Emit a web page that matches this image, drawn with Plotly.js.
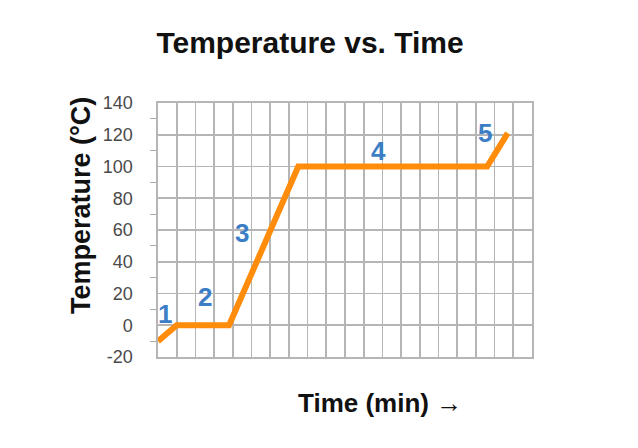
<!DOCTYPE html>
<html>
<head>
<meta charset="utf-8">
<script src="https://cdn.plot.ly/plotly-3.0.1.min.js"></script>
<style>
  body { margin: 0; background: #fff; }
  #graph { width: 638px; height: 448px; }
</style>
</head>
<body>
<div id="graph"></div>
<script>
// heating curve, values
const timeMin = [0, 1, 3.8, 7.5, 17.6, 18.7];
const tempC = [-10, 0, 0, 100, 100, 121];

// phase numbers and where they sit
const phaseText = ['1', '2', '3', '4', '5'];
const phaseX = [0.4, 2.5, 4.5, 11.8, 17.5];
const phaseY = [7, 18, 58, 110, 121];

const yTicks = [-20, 0, 20, 40, 60, 80, 100, 120, 140];
const yTickText = ['-20', '0', '20', '40', '60', '80', '100', '120', '140'];

const trace = {
    x: timeMin,
    y: tempC,
    type: 'scatter',
    mode: 'lines',
    line: { color: '#ff8c0a', width: 6 },
    hoverinfo: 'skip'
};

const phaseNotes = phaseText.map((t, i) => ({
    text: '<b>' + t + '</b>',
    x: phaseX[i],
    y: phaseY[i],
    xref: 'x',
    yref: 'y',
    showarrow: false,
    font: { family: 'Liberation Sans, Arial', size: 26, color: '#3c7ec6' }
}));

const layout = {
    width: 638,
    height: 448,
    margin: { l: 158, r: 106, t: 103, b: 91 },
    paper_bgcolor: '#fff',
    plot_bgcolor: '#fff',
    showlegend: false,
    title: {
        text: '<b>Temperature vs. Time</b>',
        x: 0.486,
        xanchor: 'center',
        y: 0.906,
        yanchor: 'middle',
        font: { family: 'Liberation Sans, Arial', size: 30, color: '#111' }
    },
    xaxis: {
        range: [0, 20],
        dtick: 1,
        showticklabels: false,
        showgrid: true,
        gridcolor: '#b5b5b5',
        gridwidth: 1.6,
        zeroline: false,
        showline: true,
        linecolor: '#b5b5b5',
        linewidth: 1.6,
        mirror: true,
        ticks: ''
    },
    yaxis: {
        range: [-20, 140],
        tickvals: yTicks,
        ticktext: yTickText,
        showgrid: true,
        gridcolor: '#b5b5b5',
        gridwidth: 1.6,
        zeroline: false,
        showline: true,
        linecolor: '#b5b5b5',
        linewidth: 1.6,
        mirror: true,
        ticks: '',
        ticklabelstandoff: 20,
        tickfont: { family: 'Liberation Sans, Arial', size: 18, color: '#4a4a4a' },
        minor: {
            tick0: -10,
            dtick: 20,
            ticks: 'outside',
            ticklen: 6,
            tickcolor: '#aaa',
            showgrid: false
        }
    },
    annotations: phaseNotes.concat([
        {
            text: '<b>Temperature (°C)</b>',
            xref: 'paper', yref: 'paper',
            x: -0.206, y: 0.598,
            xanchor: 'center', yanchor: 'middle',
            textangle: -90,
            showarrow: false,
            font: { family: 'Liberation Sans, Arial', size: 27, color: '#111' }
        },
        {
            text: '<b>Time (min) →</b>',
            xref: 'paper', yref: 'paper',
            x: 0.594, y: -0.181,
            xanchor: 'center', yanchor: 'middle',
            showarrow: false,
            font: { family: 'Liberation Sans, Arial', size: 26, color: '#111' }
        }
    ])
};

Plotly.newPlot('graph', [trace], layout, { displayModeBar: false, staticPlot: true });
</script>
</body>
</html>
